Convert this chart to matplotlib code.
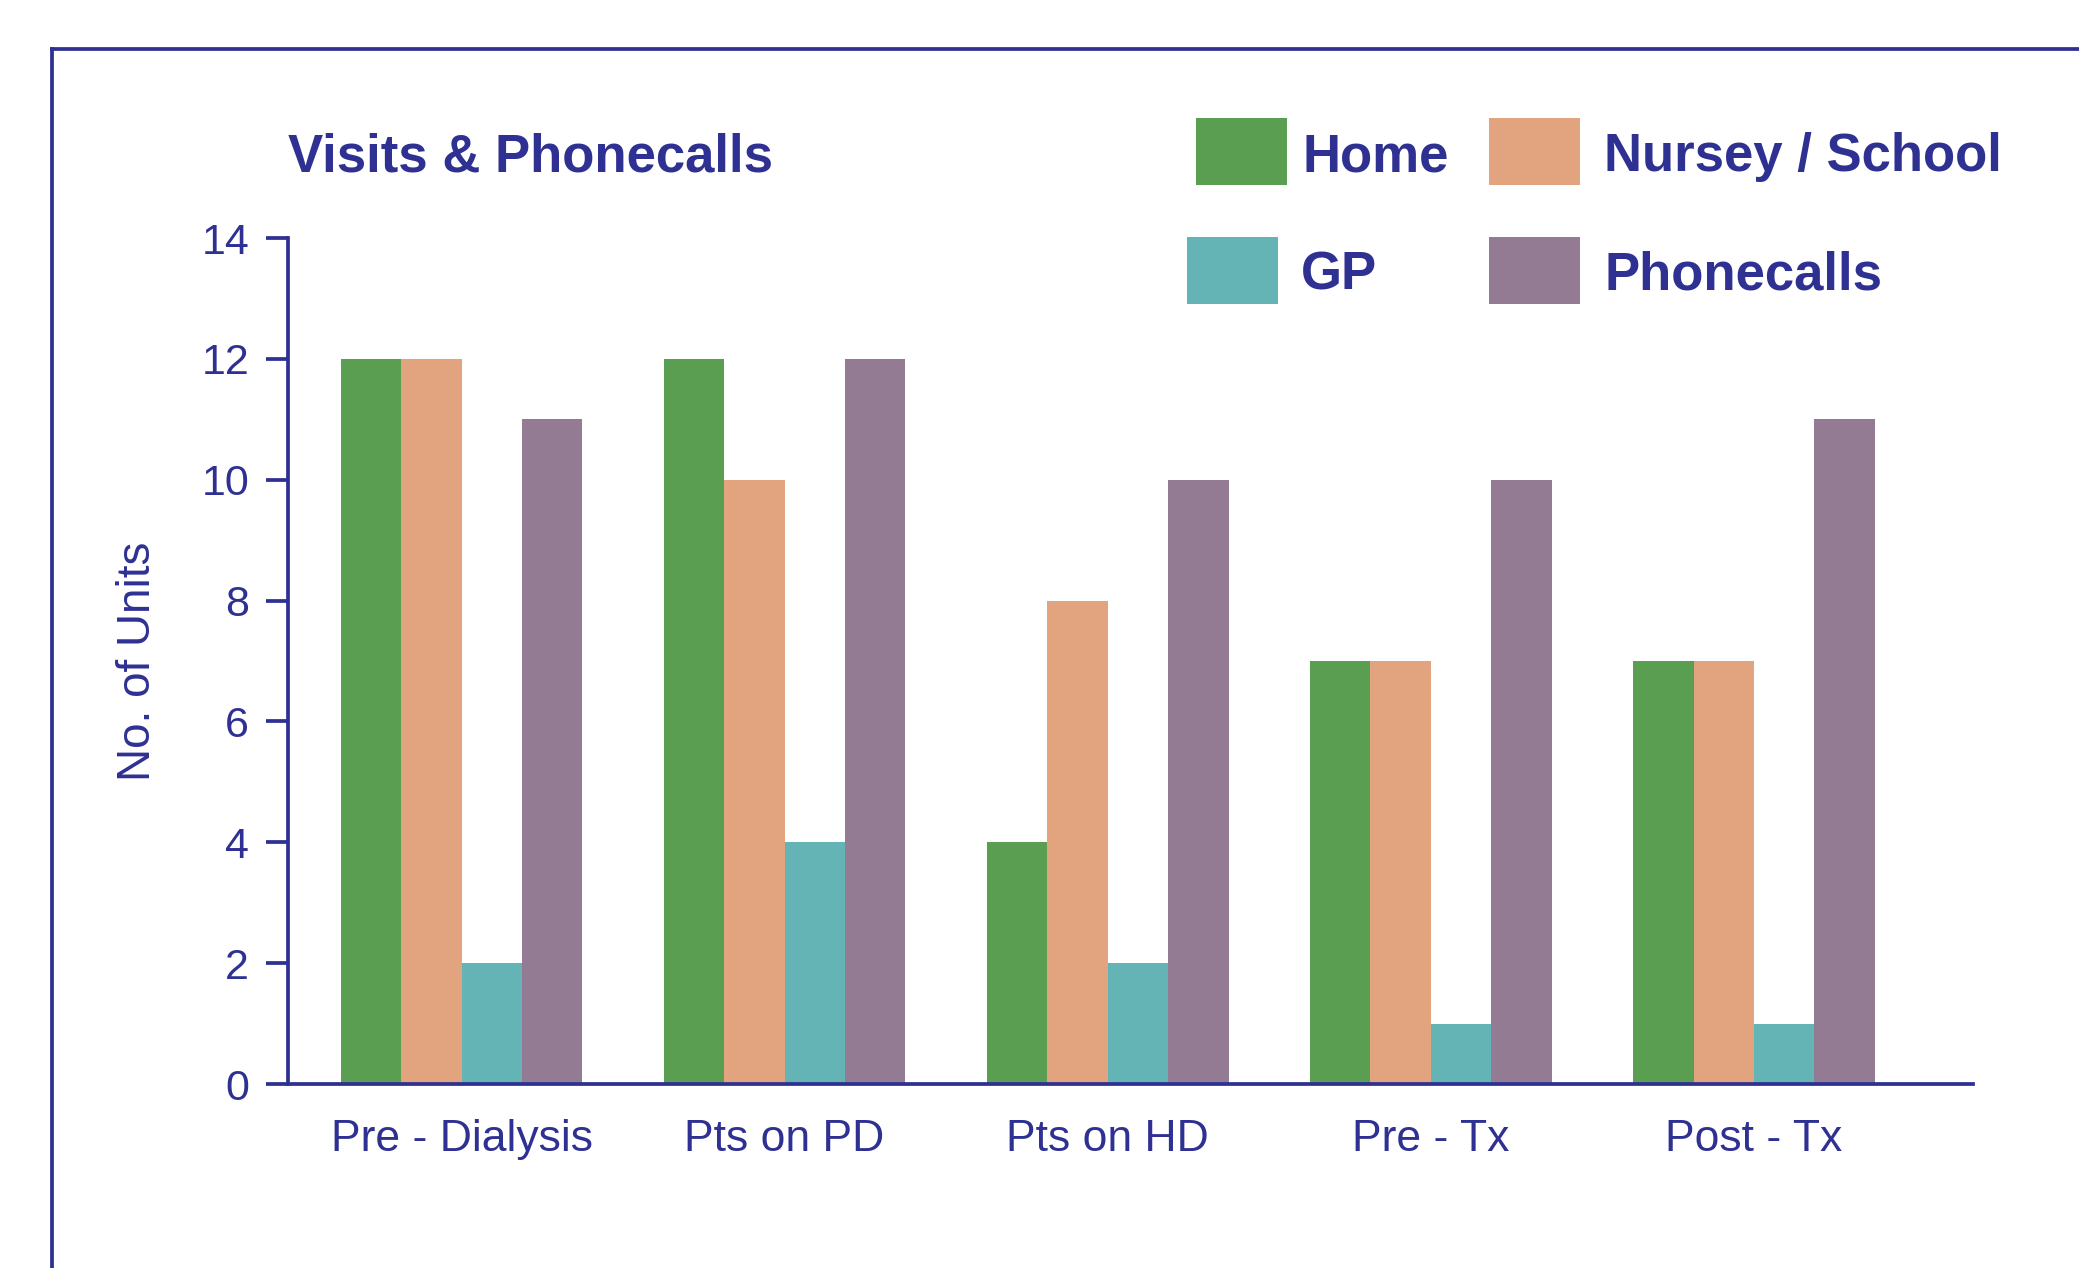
import matplotlib
matplotlib.use("Agg")
import matplotlib.pyplot as plt
from matplotlib.patches import Rectangle
from matplotlib.lines import Line2D
import numpy as np

categories = ["Pre - Dialysis", "Pts on PD", "Pts on HD", "Pre - Tx", "Post - Tx"]
series_names = ["Home", "Nursey / School", "GP", "Phonecalls"]
home = [12, 12, 4, 7, 7]
nursery_school = [12, 10, 8, 7, 7]
gp = [2, 4, 2, 1, 1]
phonecalls = [11, 12, 10, 10, 11]
y_ticks = [0, 2, 4, 6, 8, 10, 12, 14]

colors = ["#5A9E52", "#E2A47F", "#65B4B5", "#937B93"]
ink = "#2E3192"

plt.rcParams['font.family'] = ['Liberation Sans', 'DejaVu Sans']

W, H = 2079, 1268
fig = plt.figure(figsize=(W / 100, H / 100), dpi=100)
ax = fig.add_axes([288 / W, 1 - 1084 / H, (1973 - 288) / W, (1084 - 238) / H])

values = [home, nursery_school, gp, phonecalls]
x = np.arange(len(categories))
bw = 0.187
for i, (vals, c) in enumerate(zip(values, colors)):
    ax.bar(x + (i - 1.5) * bw, vals, width=bw, color=c, edgecolor='none', zorder=2)

ax.set_xlim(-0.537, len(categories) - 1 + 0.678)
ax.set_ylim(0, 14)
ax.set_yticks(y_ticks)
ax.set_xticks(x)
ax.set_xticklabels(categories)
for s in ['top', 'right']:
    ax.spines[s].set_visible(False)
for s in ['left', 'bottom']:
    ax.spines[s].set_color(ink)
    ax.spines[s].set_linewidth(2.7)
ax.tick_params(axis='y', length=16, width=2.7, color=ink, labelcolor=ink, labelsize=31, pad=12)
ax.tick_params(axis='x', length=0, labelcolor=ink, labelsize=32, pad=25)
ax.set_ylabel("No. of Units", color=ink, fontsize=33, labelpad=30)

# title
fig.text(288 / W, 1 - 171 / H, "Visits & Phonecalls", color=ink, fontsize=38,
         fontweight='bold', ha='left', va='baseline')

# legend (manual)
patch_pos = [(1196, 118), (1489, 118), (1187, 237), (1489, 237)]
text_pos = [(1302, 171), (1604, 171), (1301, 289), (1604, 289)]
for name, c, (px, py), (tx, ty) in zip(series_names, colors, patch_pos, text_pos):
    fig.add_artist(Rectangle((px / W, 1 - (py + 67) / H), 91 / W, 67 / H,
                             transform=fig.transFigure, facecolor=c, edgecolor='none'))
    fig.text(tx / W, 1 - ty / H, name, color=ink, fontsize=38, fontweight='bold',
             ha='left', va='baseline')

# outer frame
fig.add_artist(Line2D([52 / W, 1.0], [1 - 49 / H, 1 - 49 / H], transform=fig.transFigure,
                      color=ink, linewidth=2.7))
fig.add_artist(Line2D([52 / W, 52 / W], [1 - 49 / H, 0.0], transform=fig.transFigure,
                      color=ink, linewidth=2.7))

fig.savefig("out.png", dpi=100)
